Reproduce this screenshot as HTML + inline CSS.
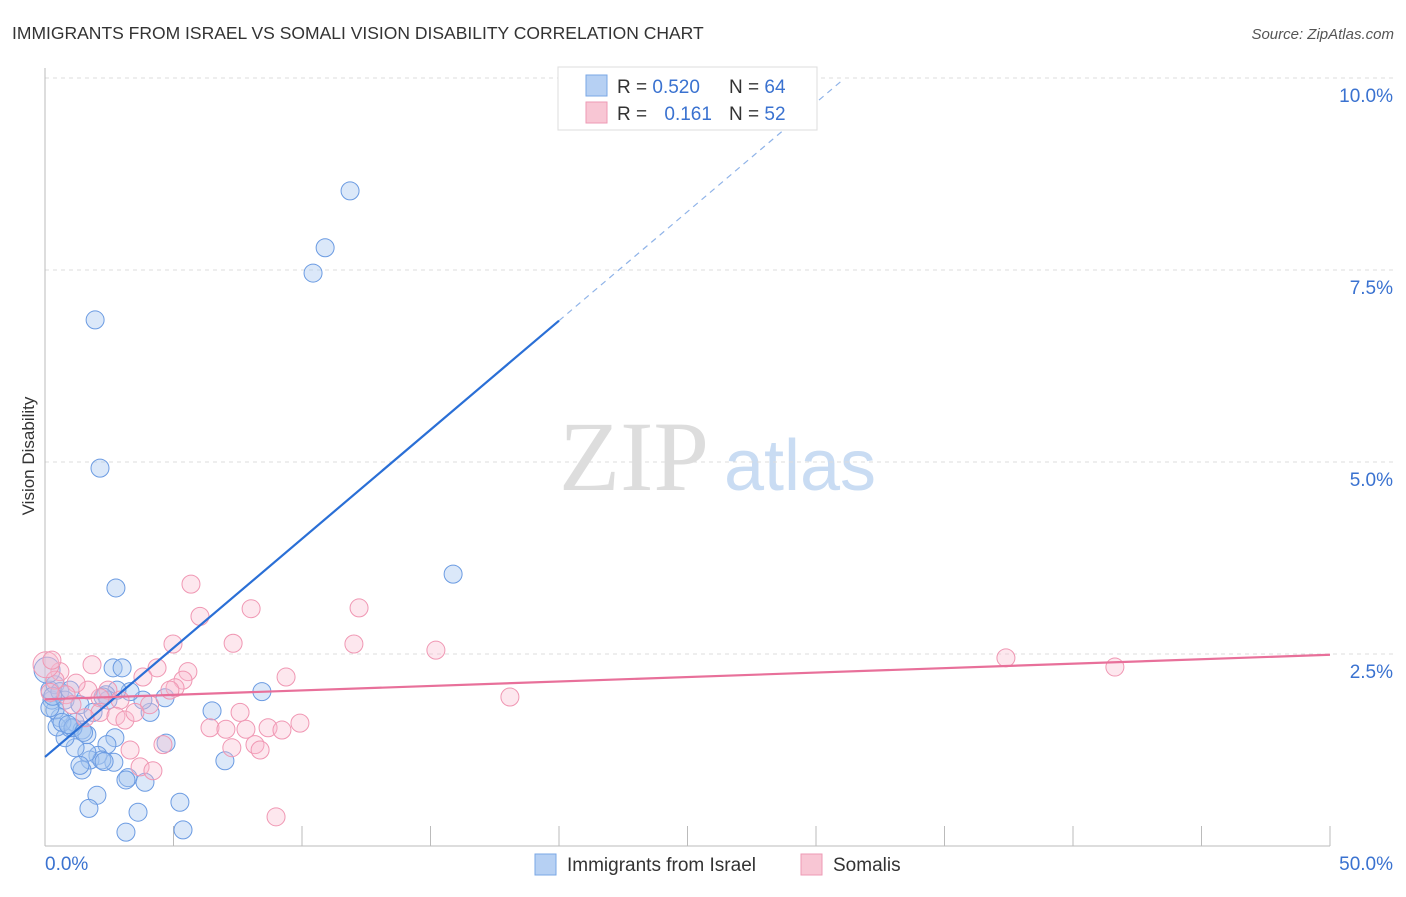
<!DOCTYPE html>
<html><head><meta charset="utf-8"><style>
body{margin:0;background:#fff;font-family:"Liberation Sans",sans-serif;}
svg text{font-family:"Liberation Sans",sans-serif;}
svg text.serif{font-family:"Liberation Serif",serif;}
</style></head><body>
<svg id="chart" width="1406" height="892" xmlns="http://www.w3.org/2000/svg">
<text x="12" y="39" font-size="17.5" fill="#333">IMMIGRANTS FROM ISRAEL VS SOMALI VISION DISABILITY CORRELATION CHART</text>
<text x="1394" y="39" font-size="15" fill="#555" text-anchor="end" font-style="italic">Source: ZipAtlas.com</text>
<text transform="translate(34,456) rotate(-90)" font-size="17" fill="#333" text-anchor="middle">Vision Disability</text>
<g>
<text class="serif" x="634" y="490" font-size="100" fill="#ddd" text-anchor="middle">ZIP</text>
<text x="800" y="490" font-size="72" fill="#c9dcf3" text-anchor="middle">atlas</text>
</g>
<g id="grid"></g>
<g id="marks"></g>
<g>
<rect x="558" y="67" width="259" height="63" fill="#fff" stroke="#ddd"/>
<rect x="586" y="75" width="21" height="21" fill="#b6d0f3" stroke="#7aa7e6"/>
<rect x="586" y="102" width="21" height="21" fill="#f8c6d4" stroke="#ee9ab4"/>
<text x="617" y="93" font-size="19" fill="#333">R = <tspan fill="#3a72d0">0.520</tspan></text>
<text x="729" y="93" font-size="19" fill="#333">N = <tspan fill="#3a72d0">64</tspan></text>
<text x="617" y="120" font-size="19" fill="#333">R = <tspan fill="#3a72d0" dx="12">0.161</tspan></text>
<text x="729" y="120" font-size="19" fill="#333">N = <tspan fill="#3a72d0">52</tspan></text>
</g>
<g>
<rect x="535" y="854" width="21" height="21" fill="#b6d0f3" stroke="#7aa7e6"/>
<text x="567" y="871" font-size="19" fill="#333">Immigrants from Israel</text>
<rect x="801" y="854" width="21" height="21" fill="#f8c6d4" stroke="#ee9ab4"/>
<text x="833" y="871" font-size="19" fill="#333">Somalis</text>
</g>
</svg>
<script>
const yTicks=[2.5,5.0,7.5,10.0];
const yTickLabels=["2.5%","5.0%","7.5%","10.0%"];
const xTickLabels=["0.0%","50.0%"];
const israelX=[11.87,10.90,10.43,1.95,2.14,15.88,2.76,8.44,6.50,7.00,4.71,4.09,3.81,4.67,3.31,2.65,3.00,2.80,2.37,2.45,2.72,2.41,2.68,2.06,1.75,2.21,1.63,1.17,0.78,0.97,1.17,1.44,1.63,0.58,0.39,0.27,0.19,0.39,0.58,0.78,0.97,1.36,3.23,3.15,3.89,1.44,1.36,2.02,1.71,3.62,3.15,5.25,5.37,0.47,0.66,1.09,0.08,0.19,1.87,2.26,0.3,0.9,1.5,2.3];
const israelY=[8.53,7.79,7.46,6.85,4.92,3.54,3.36,2.01,1.76,1.11,1.34,1.74,1.90,1.93,2.01,2.32,2.32,2.03,1.97,1.90,1.41,1.32,1.09,1.18,1.12,1.12,1.22,1.28,1.41,1.54,1.61,1.51,1.45,1.67,1.77,1.90,2.03,2.10,2.01,1.90,2.03,1.84,0.89,0.86,0.83,0.99,1.05,0.66,0.49,0.44,0.18,0.57,0.21,1.55,1.61,1.54,2.29,1.80,1.74,1.94,1.95,1.58,1.48,1.10];
const somaliX=[5.68,8.02,12.22,6.03,4.98,7.32,12.02,15.21,37.39,41.63,18.09,9.38,5.56,4.36,1.83,5.37,5.06,4.86,3.81,2.45,2.14,1.67,1.21,0.58,0.39,0.82,2.92,4.07,2.14,2.76,3.11,3.50,6.42,7.04,7.59,7.82,8.68,9.22,9.92,7.27,8.17,8.37,3.31,4.59,3.70,4.20,8.99,0.04,0.27,1.05,1.56,0.2];
const somaliY=[3.41,3.09,3.10,2.99,2.63,2.64,2.63,2.55,2.45,2.33,1.94,2.20,2.27,2.32,2.36,2.16,2.06,2.03,2.20,2.03,1.93,2.03,2.12,2.27,2.16,1.97,1.90,1.84,1.74,1.69,1.64,1.74,1.54,1.52,1.74,1.52,1.54,1.51,1.60,1.28,1.32,1.25,1.25,1.32,1.03,0.98,0.38,2.36,2.42,1.84,1.67,2.0];
const israelTrend=[1.16,0.284];
const somaliTrend=[1.91,0.0116];
const NS="http://www.w3.org/2000/svg";
const X0=45,X1=1330,Y0=846,YPER=76.8;
function sx(v){return X0+(v/50)*(X1-X0);}
function sy(v){return Y0-v*YPER;}
function mk(tag,attrs,parent){const e=document.createElementNS(NS,tag);for(const k in attrs)e.setAttribute(k,attrs[k]);parent.appendChild(e);return e;}
const grid=document.getElementById('grid'),marks=document.getElementById('marks');
yTicks.forEach((t,i)=>{
 const l=mk('line',{x1:X0,x2:1394,y1:sy(t),y2:sy(t),stroke:'#ddd','stroke-dasharray':'4,4'},grid);
 
 
 const tx=mk('text',{x:1393,y:sy(t)+24,'font-size':19,fill:'#3a72d0','text-anchor':'end'},grid);
 tx.textContent=yTickLabels[i];
 
 
});
const ax=mk('line',{x1:X0,x2:X0,y1:68,y2:Y0,stroke:'#bbb'},grid);


const bx=mk('line',{x1:X0,x2:X1,y1:Y0,y2:Y0,stroke:'#bbb'},grid);


for(let i=1;i<=10;i++){const t=mk('line',{x1:sx(i*5),x2:sx(i*5),y1:826,y2:Y0,stroke:'#bbb'},grid);
 
 }
[[0,'start',45],[50,'end',1393]].forEach((d,i)=>{const t=mk('text',{x:d[2],y:870,'font-size':19,fill:'#3a72d0','text-anchor':d[1]},grid);t.textContent=xTickLabels[i];
 
 });
israelX.forEach((x,i)=>{const c=mk('circle',{cx:sx(x),cy:sy(israelY[i]),r:i==56?13:9,fill:'rgba(165,198,240,0.4)',stroke:'#6b9be2','stroke-width':1},marks);
 
 });
somaliX.forEach((x,i)=>{const c=mk('circle',{cx:sx(x),cy:sy(somaliY[i]),r:i==47?13:9,fill:'rgba(248,185,205,0.35)',stroke:'#f097b3','stroke-width':1},marks);
 
 });
const bl=mk('line',{x1:sx(0),y1:sy(israelTrend[0]),x2:sx(20),y2:sy(israelTrend[0]+israelTrend[1]*20),stroke:'#2a6fd6','stroke-width':2.2},marks);


const bd=mk('line',{x1:sx(20),y1:sy(israelTrend[0]+israelTrend[1]*20),x2:sx(31),y2:sy(israelTrend[0]+israelTrend[1]*31),stroke:'#8fb3e8','stroke-width':1.2,'stroke-dasharray':'6,5'},marks);


const pl=mk('line',{x1:sx(0),y1:sy(somaliTrend[0]),x2:sx(50),y2:sy(somaliTrend[0]+somaliTrend[1]*50),stroke:'#e8709a','stroke-width':2.2},marks);


</script>
</body></html>
